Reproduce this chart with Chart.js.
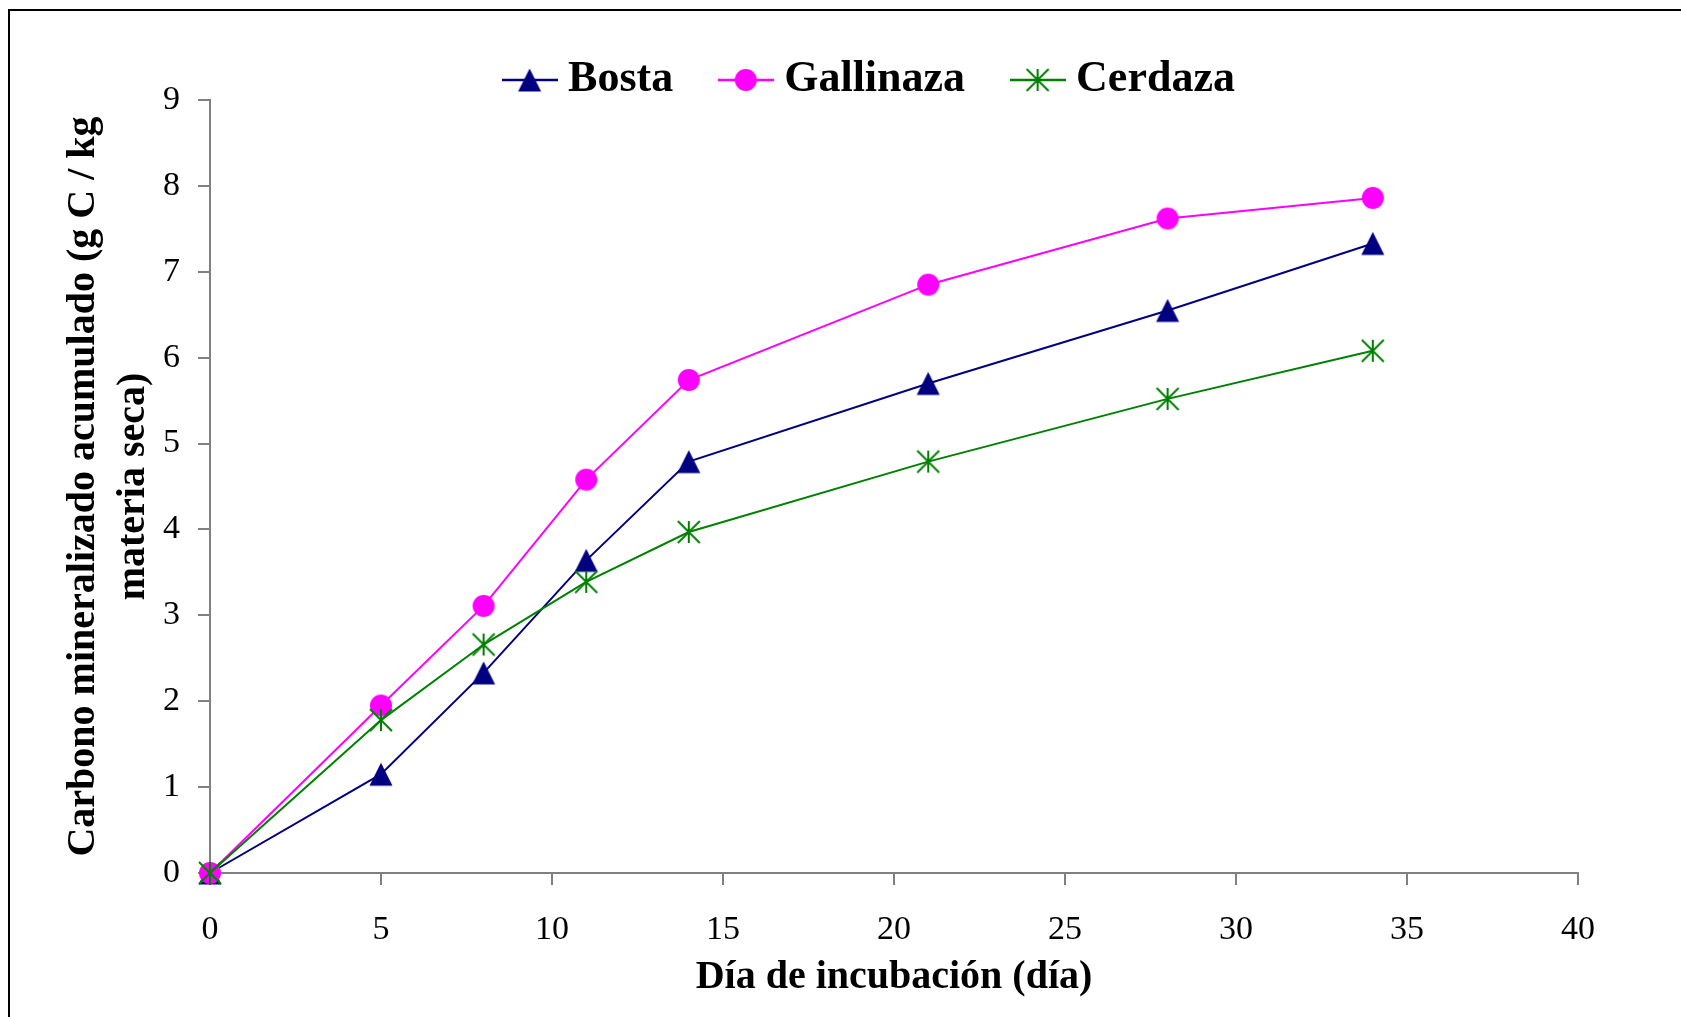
<!DOCTYPE html>
<html lang="es">
<head>
<meta charset="utf-8">
<title>Carbono mineralizado acumulado</title>
<script src="https://cdn.jsdelivr.net/npm/chart.js@4/dist/chart.umd.min.js"></script>
<style>
  html, body { margin: 0; padding: 0; background: #fff; overflow: hidden; }
  #wrap { position: relative; width: 1681px; height: 1017px; }
  #frame { position: absolute; left: 8px; top: 9px; width: 2000px; height: 2000px;
           border: 2px solid #000; box-sizing: border-box; pointer-events: none; }
  canvas { position: absolute; left: 0; top: 0; }
</style>
</head>
<body>
<div id="wrap">
  <canvas id="chart" width="1681" height="1017" style="width:1681px;height:1017px"></canvas>
  <div id="frame"></div>
</div>
<script>
// Días de muestreo (eje X)
const days = [0, 5, 8, 11, 14, 21, 28, 34];

// Carbono mineralizado acumulado (g C / kg materia seca)
const bosta     = [0, 1.15, 2.33, 3.64, 4.79, 5.70, 6.55, 7.33];
const gallinaza = [0, 1.95, 3.11, 4.58, 5.74, 6.85, 7.62, 7.86];
const cerdaza   = [0, 1.78, 2.66, 3.39, 3.97, 4.79, 5.52, 6.08];

const seriesNames = ['Bosta', 'Gallinaza', 'Cerdaza'];
const seriesColors = ['#000080', '#FF00FF', '#008000'];

// Rango de los ejes
const xMin = 0, xMax = 40, xStep = 5;
const yMin = 0, yMax = 9, yStep = 1;

const axisTitleX = 'Día de incubación (día)';
const axisTitleY = ['Carbono mineralizado acumulado (g C / kg', 'materia seca)'];

const SERIF = '"Liberation Serif", "Times New Roman", Times, serif';

// Dibujo de cada marcador, centrado en (cx, cy)
function drawMarker(g, kind, color, cx, cy) {
  g.strokeStyle = color;
  g.fillStyle = color;
  if (kind === 'triangle') {
    const half = 11.5;
    g.beginPath();
    g.moveTo(cx, cy - half);
    g.lineTo(cx + half, cy + half);
    g.lineTo(cx - half, cy + half);
    g.closePath();
    g.fill();
  } else if (kind === 'circle') {
    g.beginPath();
    g.arc(cx, cy, 11, 0, 2 * Math.PI);
    g.fill();
  } else {
    const r = 11;
    g.lineWidth = 2;
    g.beginPath();
    g.moveTo(cx - r, cy - r); g.lineTo(cx + r, cy + r);
    g.moveTo(cx + r, cy - r); g.lineTo(cx - r, cy + r);
    g.moveTo(cx, cy - r); g.lineTo(cx, cy + r);
    g.stroke();
  }
}

// Marcador como imagen para los puntos de la serie
function makeMarker(kind, color) {
  const s = 26;
  const c = document.createElement('canvas');
  c.width = s; c.height = s;
  drawMarker(c.getContext('2d'), kind, color, s / 2, s / 2);
  return c;
}

// Símbolo de la leyenda: tramo de línea con su marcador al centro
function makeLegendSymbol(kind, color) {
  const w = 56, h = 28;
  const c = document.createElement('canvas');
  c.width = w; c.height = h;
  const g = c.getContext('2d');
  g.strokeStyle = color;
  g.lineWidth = 2.5;
  g.beginPath(); g.moveTo(0, h / 2); g.lineTo(w, h / 2); g.stroke();
  drawMarker(g, kind, color, w / 2, h / 2);
  return c;
}

const markerKinds = ['triangle', 'circle', 'asterisk'];
const pointImages = markerKinds.map((k, i) => makeMarker(k, seriesColors[i]));
const legendSymbols = markerKinds.map((k, i) => makeLegendSymbol(k, seriesColors[i]));

const toPoints = ys => days.map((d, i) => ({ x: d, y: ys[i] }));

// Desplaza la leyenda hacia la izquierda respecto del área de trazado
const legendShift = {
  id: 'legendShift',
  afterLayout(chart) {
    const lg = chart.legend;
    if (lg) { lg.left -= 20; lg.right -= 20; }
  }
};

Chart.defaults.font.family = SERIF;
Chart.defaults.color = '#000';

const seriesValues = [bosta, gallinaza, cerdaza];
const drawOrder = [3, 2, 1];

new Chart(document.getElementById('chart'), {
  type: 'line',
  plugins: [legendShift],
  data: {
    datasets: seriesNames.map((name, i) => ({
      label: name,
      data: toPoints(seriesValues[i]),
      borderColor: seriesColors[i],
      backgroundColor: seriesColors[i],
      borderWidth: 2,
      pointStyle: pointImages[i],
      pointRadius: 12,
      clip: false,
      order: drawOrder[i]
    }))
  },
  options: {
    responsive: false,
    animation: false,
    devicePixelRatio: 1,
    layout: { padding: { left: 50, right: 103, top: 2, bottom: 0 } },
    elements: { line: { tension: 0 } },
    plugins: {
      tooltip: { enabled: false },
      legend: {
        position: 'top',
        fullSize: false,
        maxHeight: 98,
        labels: {
          usePointStyle: true,
          pointStyleWidth: 33,
          padding: 56,
          color: '#000',
          font: { family: SERIF, size: 44, weight: 'bold' },
          sort: (a, b) => a.datasetIndex - b.datasetIndex,
          generateLabels: chart => {
            const items = Chart.defaults.plugins.legend.labels.generateLabels(chart);
            items.forEach(it => { it.pointStyle = legendSymbols[it.datasetIndex]; });
            return items;
          }
        }
      }
    },
    scales: {
      x: {
        type: 'linear',
        min: xMin, max: xMax,
        afterFit: scale => { scale.height = 144; },
        ticks: { stepSize: xStep, padding: 25, color: '#000', font: { family: SERIF, size: 34 } },
        grid: { drawOnChartArea: false, drawTicks: true, tickLength: 12, color: '#808080', lineWidth: 2 },
        border: { color: '#808080', width: 2 },
        title: {
          display: true,
          text: axisTitleX,
          color: '#000',
          font: { family: SERIF, size: 40, weight: 'bold', lineHeight: 1.2 },
          padding: { top: 6, bottom: 15 }
        }
      },
      y: {
        min: yMin, max: yMax,
        afterFit: scale => { scale.width = 160; },
        ticks: { stepSize: yStep, padding: 18, color: '#000', font: { family: SERIF, size: 34 } },
        grid: { drawOnChartArea: false, drawTicks: true, tickLength: 12, color: '#808080', lineWidth: 2 },
        border: { color: '#808080', width: 2 },
        title: {
          display: true,
          text: axisTitleY,
          color: '#000',
          font: { family: SERIF, size: 40, weight: 'bold', lineHeight: 1.25 },
          padding: { top: 9, bottom: 7 }
        }
      }
    }
  }
});
</script>
</body>
</html>
